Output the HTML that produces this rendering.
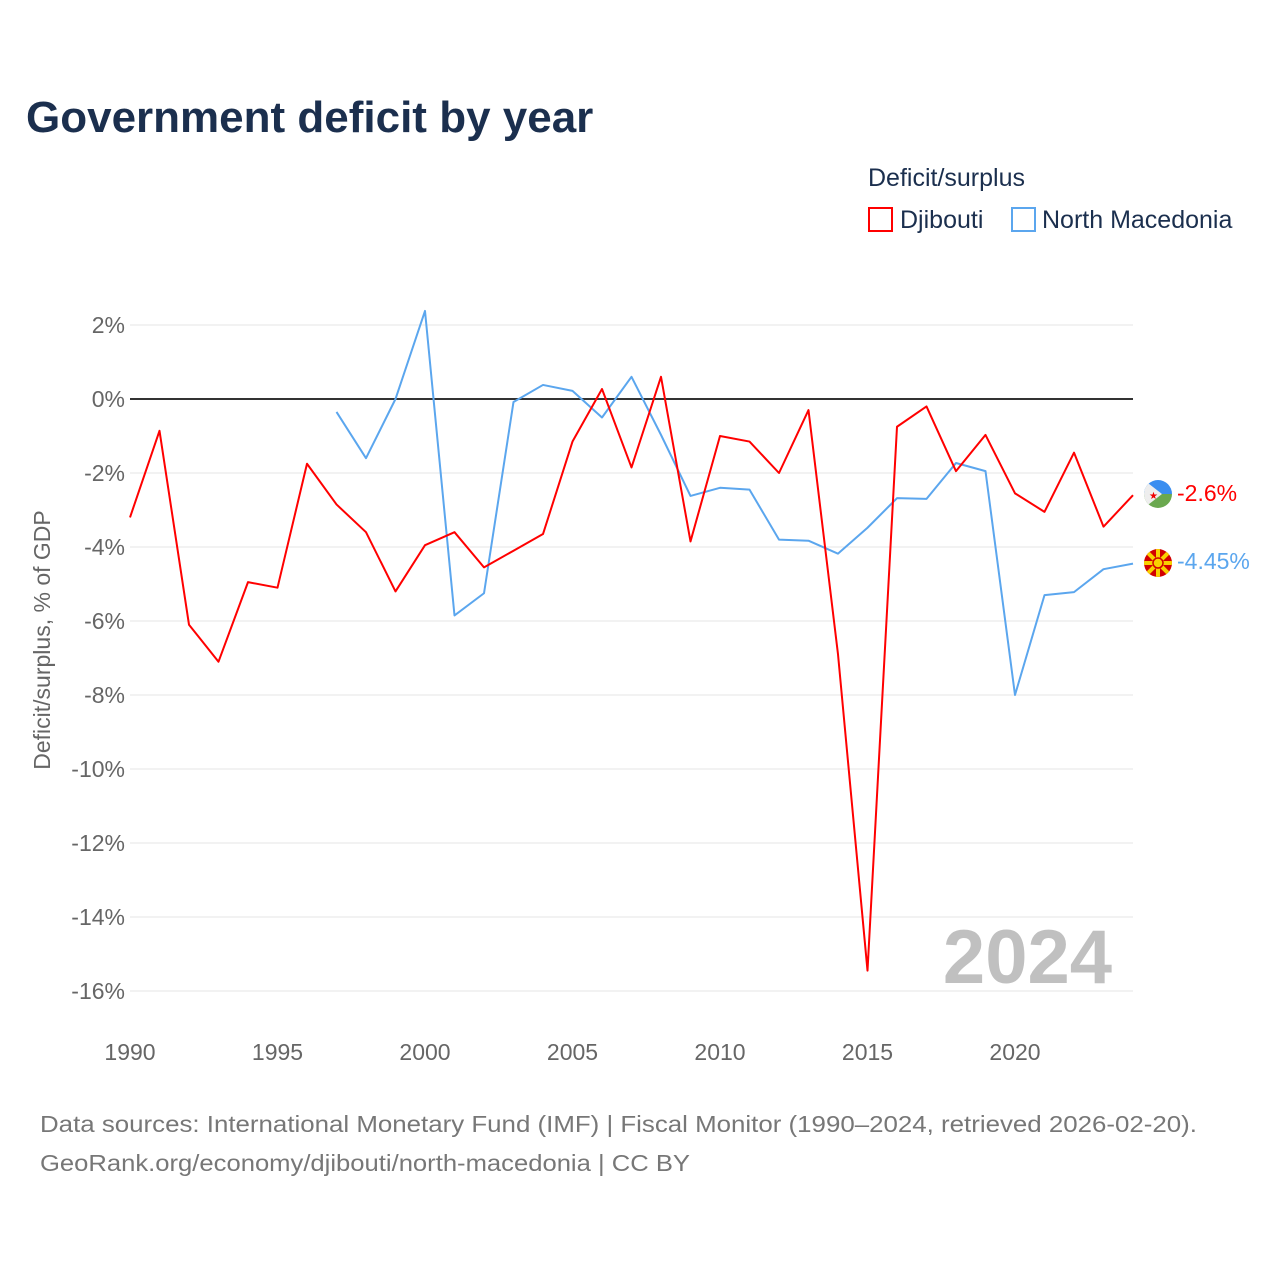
<!DOCTYPE html>
<html><head><meta charset="utf-8"><style>
body{margin:0;background:#fff;font-family:"Liberation Sans",sans-serif}
</style></head><body>
<svg width="1280" height="1280" xmlns="http://www.w3.org/2000/svg" font-family="Liberation Sans, sans-serif">
<text x="26" y="132" font-size="44" font-weight="bold" fill="#1b2f4e">Government deficit by year</text>
<text x="868" y="186" font-size="25" fill="#1b2f4e">Deficit/surplus</text>
<g><rect x="869" y="208" width="23" height="23" fill="none" stroke="#f00" stroke-width="2"/><text x="900" y="228" font-size="25" fill="#1b2f4e">Djibouti</text></g>
<g><rect x="1012" y="208" width="23" height="23" fill="none" stroke="#5ba6ee" stroke-width="2"/><text x="1042" y="228" font-size="25" fill="#1b2f4e">North Macedonia</text></g>
<g id="grid"></g>
<g id="yticks"></g>
<g id="xticks"></g>
<text transform="translate(50,640) rotate(-90)" text-anchor="middle" font-size="23" fill="#666">Deficit/surplus, % of GDP</text>
<text x="1112" y="983" text-anchor="end" font-size="76" font-weight="bold" fill="#c0c0c0">2024</text>
<g id="lines"></g>
<g>
<clipPath id="c1"><circle cx="1158" cy="494" r="14"/></clipPath>
<g clip-path="url(#c1)"><rect x="1144" y="480" width="28" height="14" fill="#3a8ef0"/><rect x="1144" y="494" width="28" height="14" fill="#6aa84f"/><polygon points="1144,480 1162,494 1144,508" fill="#eee"/></g>
<text x="1149" y="499" font-size="10" fill="#e00">★</text></g>
<g>
<clipPath id="c2"><circle cx="1158" cy="563" r="14"/></clipPath>
<g clip-path="url(#c2)"><rect x="1144" y="549" width="28" height="28" fill="#d20000"/>
<g stroke="#f8d000" stroke-width="4"><line x1="1144" y1="549" x2="1172" y2="577"/><line x1="1172" y1="549" x2="1144" y2="577"/><line x1="1158" y1="549" x2="1158" y2="577"/><line x1="1144" y1="563" x2="1172" y2="563"/></g>
<circle cx="1158" cy="563" r="5" fill="#f8d000" stroke="#d20000" stroke-width="1.5"/></g></g>
<text x="1177" y="501" font-size="23" fill="#f00">-2.6%</text>
<text x="1177" y="569" font-size="23" fill="#5ba6ee">-4.45%</text>
<text x="40" y="1132" font-size="23" fill="#777" textLength="1157" lengthAdjust="spacingAndGlyphs">Data sources: International Monetary Fund (IMF) | Fiscal Monitor (1990–2024, retrieved 2026-02-20).</text>
<text x="40" y="1171" font-size="23" fill="#777" textLength="650" lengthAdjust="spacingAndGlyphs">GeoRank.org/economy/djibouti/north-macedonia | CC BY</text>
</svg>
<script>
const yTicks=[2,0,-2,-4,-6,-8,-10,-12,-14,-16];
const xTicks=[1990,1995,2000,2005,2010,2015,2020];
const djYears=[1990,1991,1992,1993,1994,1995,1996,1997,1998,1999,2000,2001,2002,2003,2004,2005,2006,2007,2008,2009,2010,2011,2012,2013,2014,2015,2016,2017,2018,2019,2020,2021,2022,2023,2024];
const djVals=[-3.2,-0.86,-6.1,-7.1,-4.95,-5.1,-1.75,-2.85,-3.6,-5.2,-3.95,-3.6,-4.55,-4.1,-3.65,-1.15,0.27,-1.85,0.6,-3.85,-1.0,-1.15,-2.0,-0.3,-6.9,-15.45,-0.75,-0.2,-1.95,-0.97,-2.55,-3.05,-1.45,-3.45,-2.6];
const mkYears=[1997,1998,1999,2000,2001,2002,2003,2004,2005,2006,2007,2008,2009,2010,2011,2012,2013,2014,2015,2016,2017,2018,2019,2020,2021,2022,2023,2024];
const mkVals=[-0.35,-1.6,0.0,2.38,-5.85,-5.25,-0.08,0.38,0.22,-0.5,0.6,-0.97,-2.62,-2.4,-2.45,-3.8,-3.83,-4.18,-3.48,-2.68,-2.7,-1.73,-1.95,-8.0,-5.3,-5.22,-4.6,-4.45];
const NS="http://www.w3.org/2000/svg";
const X=y=>130+(y-1990)*29.5, Y=v=>399-v*37;
function mk(t,a,p){const e=document.createElementNS(NS,t);for(const k in a)e.setAttribute(k,a[k]);document.getElementById(p).appendChild(e);return e;}
yTicks.forEach(v=>{
 const l=mk('line',{x1:130,x2:1133,y1:Y(v),y2:Y(v),stroke:v==0?'#333':'#e6e6e6','stroke-width':v==0?2:1},'grid');
 
 
 const t=mk('text',{x:125,y:Y(v)+8,'text-anchor':'end','font-size':23,fill:'#666'},'yticks');
 t.textContent=v+'%';
 
 
});
xTicks.forEach(v=>{
 const t=mk('text',{x:X(v),y:1060,'text-anchor':'middle','font-size':23,fill:'#666'},'xticks');
 t.textContent=v;
 
 
});
function line(ys,vs,c,n){
 const p=mk('polyline',{points:ys.map((y,i)=>X(y)+','+Y(vs[i])).join(' '),fill:'none',stroke:c,'stroke-width':2,'stroke-linejoin':'round'},'lines');
 
 
}
line(mkYears,mkVals,'#5ba6ee','north-macedonia-line');
line(djYears,djVals,'#f00','djibouti-line');
</script>
</body></html>
